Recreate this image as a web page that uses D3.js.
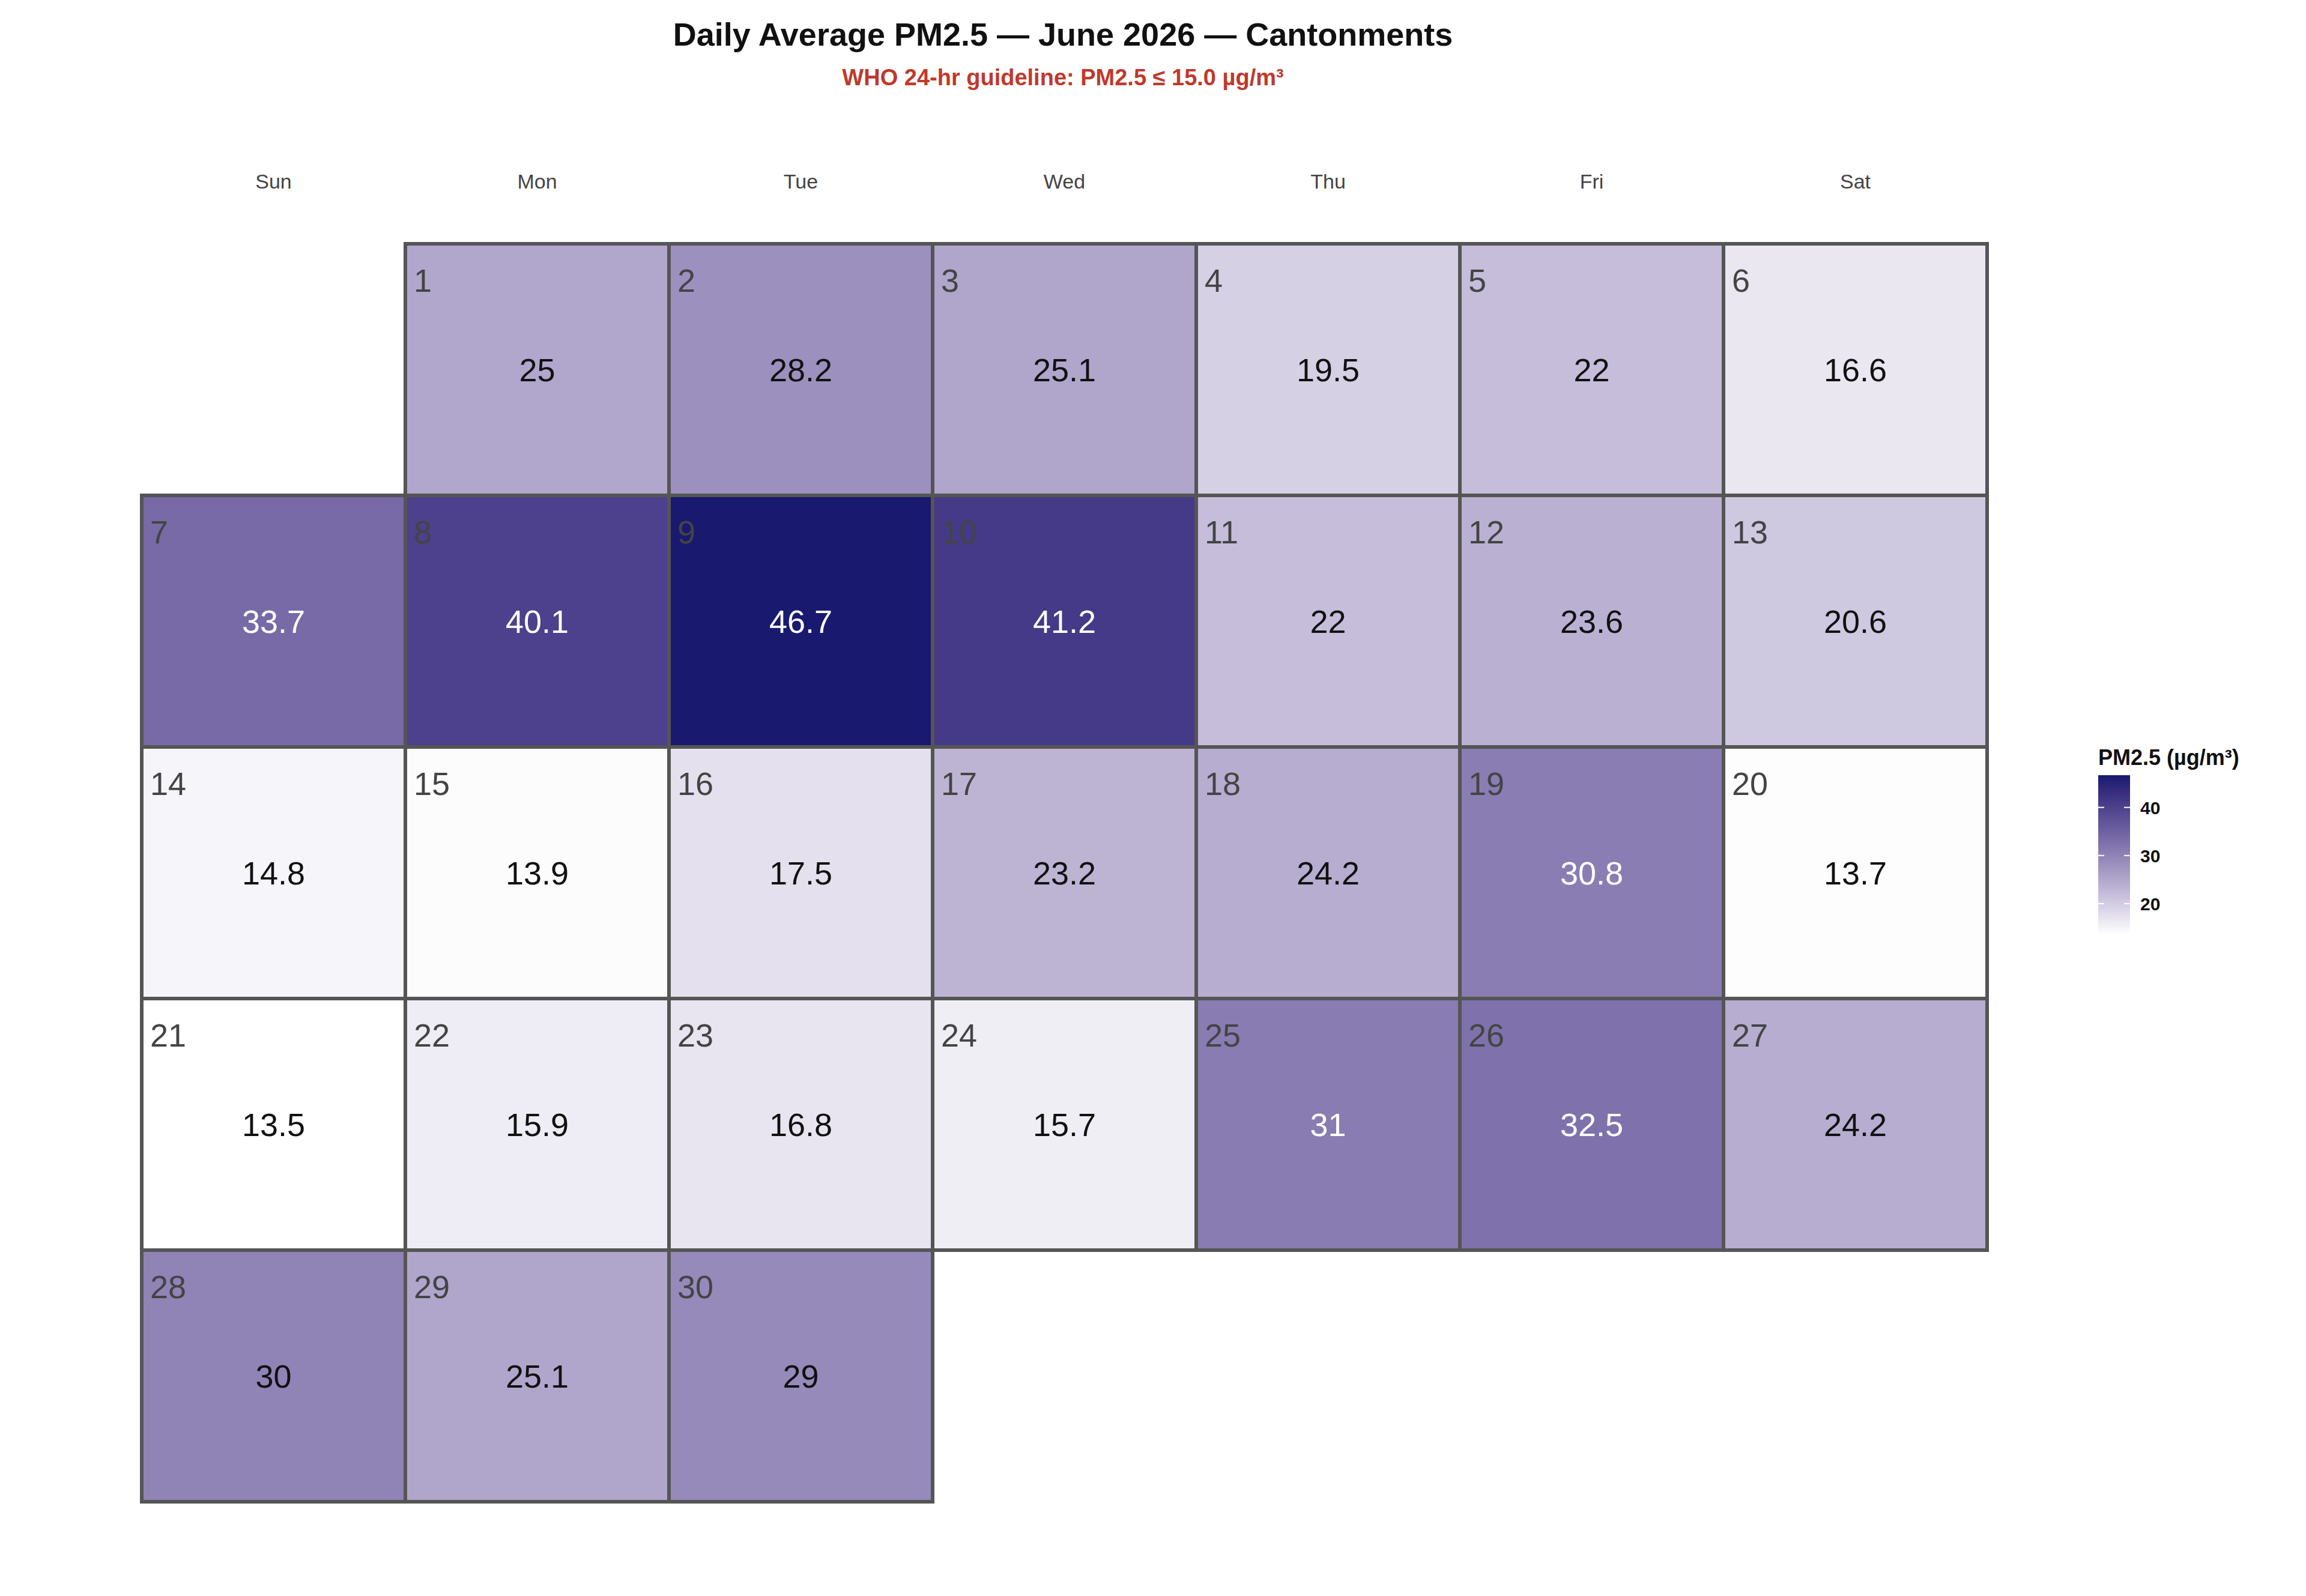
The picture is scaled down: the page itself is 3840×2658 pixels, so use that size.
<!DOCTYPE html>
<html><head><meta charset="utf-8">
<script src="https://cdn.jsdelivr.net/npm/d3@7"></script>
<style>body{margin:0;background:#fff}text{font-family:"Liberation Sans",Arial,sans-serif}</style>
</head><body><div id="chart"></div>
<script>
const weekdays = ["Sun", "Mon", "Tue", "Wed", "Thu", "Fri", "Sat"];
const days = d3.range(1, 31);
const pm25 = [25, 28.2, 25.1, 19.5, 22, 16.6, 33.7, 40.1, 46.7, 41.2, 22, 23.6, 20.6, 14.8,
  13.9, 17.5, 23.2, 24.2, 30.8, 13.7, 13.5, 15.9, 16.8, 15.7, 31, 32.5, 24.2, 30, 25.1, 29];
const legendTicks = [20, 30, 40];
const firstWeekday = 1; // June 1 2026 is a Monday

const W = 3840, H = 2658;
const svg = d3.select("#chart").append("svg").attr("width", W).attr("height", H);

const data = days.map((d, i) => {
  const idx = i + firstWeekday;
  return { day: d, value: pm25[i], col: idx % 7, row: Math.floor(idx / 7) };
});

const x = d3.scaleBand().domain(d3.range(7)).range([236, 236 + 7 * 439]);
const y = d3.scaleBand().domain(d3.range(5)).range([406, 406 + 5 * 419]);
const ext = d3.extent(pm25);
const color = d3.scaleLinear()
  .domain([ext[0], (ext[0] + ext[1]) / 2, ext[1]])
  .range(["#ffffff", "#8f82b6", "#191970"])
  .interpolate(d3.interpolateLab);

svg.append("text").attr("x", 1770).attr("y", 76).attr("text-anchor", "middle")
  .attr("font-size", 54).attr("font-weight", "bold").attr("fill", "#111")
  .text("Daily Average PM2.5  —  June 2026  —  Cantonments");
svg.append("text").attr("x", 1770).attr("y", 142).attr("text-anchor", "middle")
  .attr("font-size", 38).attr("font-weight", "bold").attr("fill", "#c0392b")
  .text("WHO 24-hr guideline: PM2.5 ≤ 15.0 µg/m³");

svg.selectAll(".wd").data(weekdays).join("text")
  .attr("x", (d, i) => x(i) + x.bandwidth() / 2).attr("y", 314)
  .attr("text-anchor", "middle").attr("font-size", 34).attr("fill", "#444").text(d => d);

const cell = svg.selectAll(".cell").data(data).join("g")
  .attr("transform", d => `translate(${x(d.col)},${y(d.row)})`);
cell.append("rect").attr("width", x.bandwidth()).attr("height", y.bandwidth())
  .attr("fill", d => color(d.value)).attr("stroke", "#555").attr("stroke-width", 6);
cell.append("text").attr("x", 14).attr("y", 80).attr("font-size", 54).attr("fill", "#444")
  .text(d => d.day);
cell.append("text").attr("x", x.bandwidth() / 2).attr("y", y.bandwidth() / 2 + 19)
  .attr("text-anchor", "middle").attr("font-size", 54)
  .attr("fill", d => d.value > 30.5 ? "#fff" : "#111").text(d => d.value);

// legend
const ly = d3.scaleLinear().domain(ext).range([1557, 1291]);
const grad = svg.append("defs").append("linearGradient").attr("id", "lg")
  .attr("x1", 0).attr("y1", 1).attr("x2", 0).attr("y2", 0);
d3.range(0, 1.01, 0.1).forEach(t => grad.append("stop")
  .attr("offset", t).attr("stop-color", color(ext[0] + t * (ext[1] - ext[0]))));
svg.append("text").attr("x", 3494).attr("y", 1274).attr("font-size", 36)
  .attr("font-weight", "bold").attr("fill", "#111").text("PM2.5 (µg/m³)");
svg.append("rect").attr("x", 3494).attr("y", 1291).attr("width", 53).attr("height", 266)
  .attr("fill", "url(#lg)");
const lt = svg.selectAll(".lt").data(legendTicks).join("g");
lt.append("line").attr("x1", 3494).attr("x2", 3504).attr("y1", ly).attr("y2", ly)
  .attr("stroke", "#fff").attr("stroke-width", 2);
lt.append("line").attr("x1", 3537).attr("x2", 3547).attr("y1", ly).attr("y2", ly)
  .attr("stroke", "#fff").attr("stroke-width", 2);
lt.append("text").attr("x", 3564).attr("y", d => ly(d) + 11).attr("font-size", 30)
  .attr("font-weight", "bold").attr("fill", "#111").text(d => d);
</script></body></html>
